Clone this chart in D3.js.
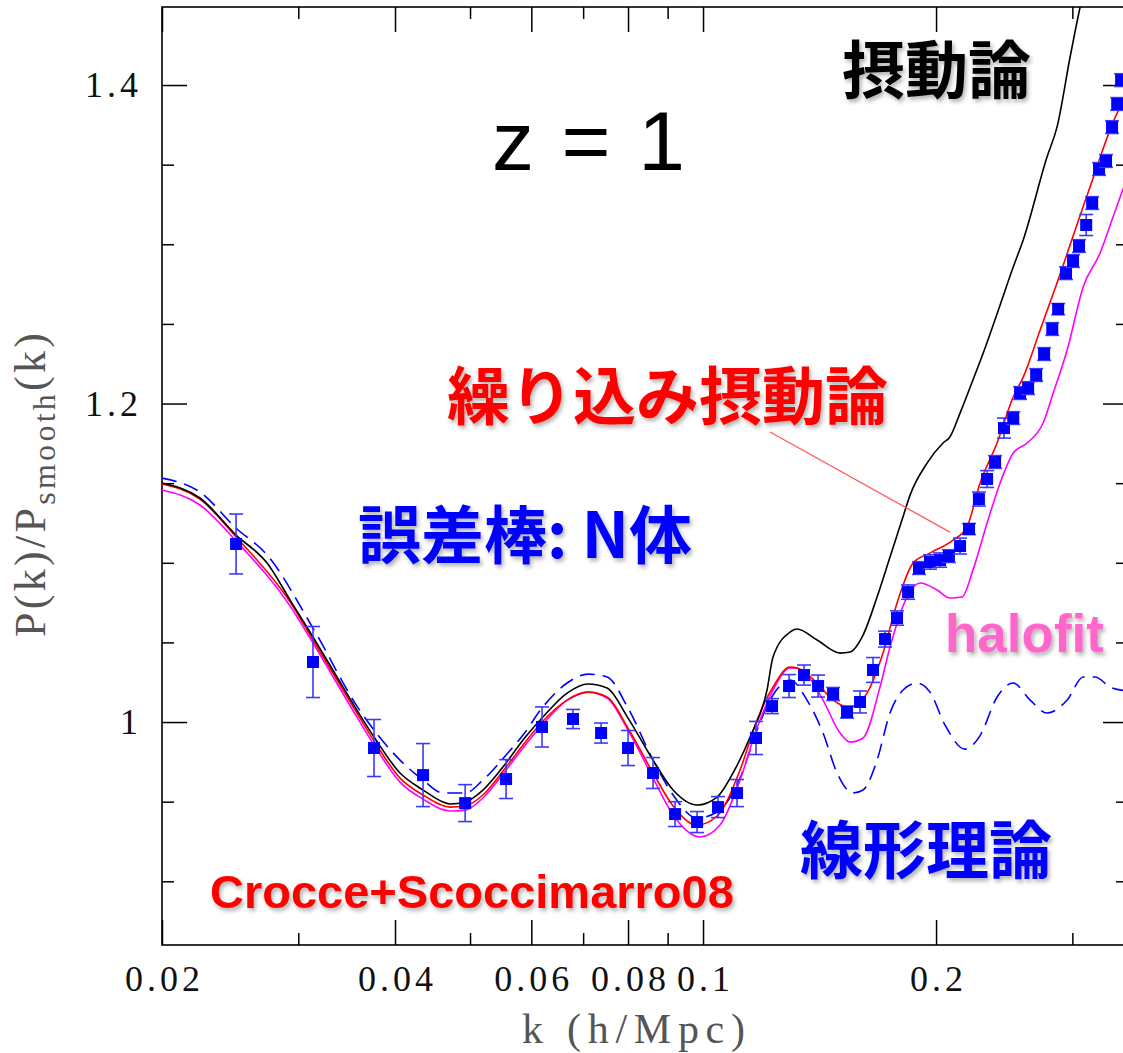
<!DOCTYPE html>
<html>
<head>
<meta charset="utf-8">
<script src="https://cdn.jsdelivr.net/npm/d3@7"></script>
<style>
  html, body { margin: 0; padding: 0; background: #fff; }
  svg { display: block; }
</style>
</head>
<body>
<svg id="chart" width="1123" height="1053"></svg>
<script>
// ---- N-body measurements (z = 1): k [h/Mpc], P(k)/P_smooth(k), 1-sigma error
const nbodyK = [0.02493, 0.03134, 0.03758, 0.04348, 0.04928, 0.05566, 0.06194, 0.06792, 0.07384, 0.0800,
  0.08618, 0.09202, 0.09824, 0.10456, 0.11064, 0.11706, 0.12278, 0.12916, 0.13504, 0.1408,
  0.14724, 0.15348, 0.15952, 0.1658, 0.17184, 0.17808, 0.18402, 0.19012, 0.19644, 0.2024,
  0.2078, 0.2148, 0.2206, 0.2272, 0.2328, 0.2384, 0.2448, 0.2516, 0.2568, 0.263,
  0.2694, 0.2758, 0.2826, 0.2876, 0.2944, 0.3006, 0.306, 0.3126, 0.3182, 0.3248,
  0.3316, 0.3376, 0.3428, 0.3468];
const nbodyRatio = [1.1118, 1.0377, 0.9837, 0.9667, 0.9491, 0.9642, 0.9969, 1.0019, 0.9931, 0.9837,
  0.968, 0.9422, 0.9372, 0.9466, 0.9554, 0.99, 1.01, 1.0226, 1.0295, 1.0226,
  1.0176, 1.0063, 1.0126, 1.0327, 1.0521, 1.0653, 1.0816, 1.0967, 1.1005, 1.1017,
  1.1042, 1.1105, 1.1212, 1.14, 1.1526, 1.1633, 1.1846, 1.1909, 1.2066, 1.2097,
  1.2179, 1.2311, 1.2468, 1.2593, 1.2819, 1.2895, 1.2989, 1.3121, 1.3259, 1.3473,
  1.3523, 1.3736, 1.3881, 1.4031];
const nbodyErr = [0.0188, 0.0223, 0.0179, 0.0198, 0.0116, 0.0122, 0.0126, 0.006, 0.0063, 0.011,
  0.0097, 0.0078, 0.0066, 0.0066, 0.0085, 0.0104, 0.0047, 0.0072, 0.0063, 0.0069,
  0.0041, 0.0038, 0.0069, 0.0078, 0.005, 0.0045, 0.0045, 0.004, 0.0045, 0.0045,
  0.004, 0.005, 0.0035, 0.0044, 0.0053, 0.004, 0.0063, 0.004, 0.004, 0.004,
  0.004, 0.004, 0.004, 0.0035, 0.004, 0.004, 0.004, 0.0066, 0.004, 0.004,
  0.004, 0.004, 0.004, 0.004];

// ---- Standard perturbation theory (black)
const sptK = [0.02, 0.02239, 0.02493, 0.02734, 0.02928, 0.03134, 0.03366, 0.03572, 0.03758, 0.0406,
  0.04348, 0.04614, 0.04712, 0.04928, 0.05196, 0.05566, 0.05854, 0.06194, 0.06674, 0.07102,
  0.07516, 0.08, 0.08618, 0.09148, 0.09824, 0.10426, 0.10932, 0.11502, 0.12096, 0.12314,
  0.12954, 0.13226, 0.14038, 0.15032, 0.15486, 0.16096, 0.1678, 0.1744, 0.18132, 0.18512,
  0.19472, 0.2042, 0.2084, 0.2148, 0.2232, 0.2314, 0.242, 0.2516, 0.2592, 0.2782,
  0.2866, 0.298, 0.307, 0.3162];
const sptRatio = [1.1501, 1.1407, 1.1174, 1.0998, 1.0766, 1.0534, 1.0283, 1.0075, 0.9906, 0.968,
  0.9573, 0.9498, 0.9485, 0.9498, 0.9573, 0.9743, 0.9887, 1.0025, 1.0182, 1.0239,
  1.0214, 1.0025, 0.9761, 0.9573, 0.9479, 0.9529, 0.968, 0.9906, 1.0201, 1.0408,
  1.0565, 1.0584, 1.0515, 1.0433, 1.044, 1.0546, 1.0785, 1.1036, 1.129, 1.1425,
  1.1626, 1.1752, 1.179, 1.194, 1.2148, 1.2349, 1.2619, 1.2857, 1.3027, 1.3548,
  1.3736, 1.4176, 1.449, 1.4754];

// ---- Renormalized perturbation theory, Crocce & Scoccimarro 2008 (red)
const rptK = [0.02, 0.02239, 0.02493, 0.02928, 0.03134, 0.03572, 0.03758, 0.0406, 0.04348, 0.04712,
  0.04928, 0.05196, 0.05566, 0.05854, 0.06194, 0.06674, 0.07102, 0.07516, 0.08, 0.08618,
  0.09148, 0.09824, 0.10426, 0.11164, 0.11742, 0.12314, 0.12954, 0.13226, 0.14038, 0.14724,
  0.15486, 0.1629, 0.1708, 0.17808, 0.18678, 0.19644, 0.2104, 0.2192, 0.228, 0.2398,
  0.2516, 0.2592, 0.2726, 0.2866, 0.3162, 0.3428, 0.354];
const rptRatio = [1.1495, 1.14, 1.1162, 1.0754, 1.0515, 1.0057, 0.9881, 0.9648, 0.9542, 0.9466,
  0.9473, 0.9542, 0.9717, 0.9856, 1.0, 1.0138, 1.0188, 1.0157, 0.9962, 0.968,
  0.9473, 0.9353, 0.941, 0.9699, 1.0013, 1.022, 1.0345, 1.0339, 1.0245, 1.0138,
  1.0094, 1.0182, 1.0433, 1.0747, 1.0998, 1.1061, 1.1143, 1.1224, 1.1501, 1.1752,
  1.2041, 1.2166, 1.2462, 1.2757, 1.336, 1.3824, 1.3937];

// ---- halofit (magenta)
const halofitK = [0.02, 0.02239, 0.02493, 0.02928, 0.03134, 0.03572, 0.03758, 0.0406, 0.04348, 0.04712,
  0.04928, 0.05196, 0.05566, 0.05854, 0.06194, 0.06674, 0.07102, 0.07516, 0.08, 0.08618,
  0.09148, 0.09912, 0.10518, 0.11164, 0.11742, 0.12314, 0.12954, 0.13226, 0.13624, 0.1429,
  0.15032, 0.15486, 0.16096, 0.16928, 0.1744, 0.18346, 0.1907, 0.2006, 0.2084, 0.216,
  0.2232, 0.2328, 0.242, 0.2516, 0.2622, 0.275, 0.2834, 0.2954, 0.3098, 0.3258,
  0.3386, 0.354];
const halofitRatio = [1.1457, 1.1363, 1.1137, 1.0728, 1.0496, 1.0031, 0.9856, 0.9623, 0.9516, 0.9441,
  0.9447, 0.9523, 0.9699, 0.9837, 0.9981, 1.0138, 1.0188, 1.0151, 0.995, 0.9648,
  0.9416, 0.9278, 0.9353, 0.9636, 0.9962, 1.0201, 1.0339, 1.0339, 1.0295, 1.0138,
  0.9931, 0.9874, 0.99, 1.022, 1.0471, 1.0785, 1.0873, 1.0829, 1.0779, 1.0785,
  1.0954, 1.125, 1.1501, 1.1689, 1.1752, 1.1878, 1.2066, 1.2336, 1.2732, 1.2945,
  1.3171, 1.3435];

// ---- Linear theory (blue dashed)
const linearK = [0.02, 0.02239, 0.02493, 0.02734, 0.03134, 0.03572, 0.0406, 0.04348, 0.04614, 0.04928,
  0.05196, 0.05566, 0.05854, 0.06194, 0.06674, 0.07102, 0.07516, 0.08, 0.08618, 0.09148,
  0.09824, 0.10426, 0.11164, 0.11742, 0.12314, 0.12954, 0.13624, 0.1429, 0.149, 0.15626,
  0.16096, 0.1678, 0.1744, 0.18132, 0.18904, 0.19644, 0.2054, 0.218, 0.228, 0.2398,
  0.2516, 0.2646, 0.2782, 0.2954, 0.3098, 0.321, 0.3356, 0.354];
const linearRatio = [1.1532, 1.1444, 1.1218, 1.1049, 1.059, 1.01, 0.9761, 0.9636, 0.9554, 0.9554,
  0.9636, 0.9793, 0.9918, 1.0088, 1.0245, 1.0301, 1.0283, 1.0088, 0.9761, 0.9542,
  0.9397, 0.9435, 0.9648, 0.995, 1.017, 1.0264, 1.0138, 0.9931, 0.968, 0.9554,
  0.9573, 0.9761, 1.0057, 1.0201, 1.0245, 1.0188, 0.9981, 0.983, 0.9915, 1.0157,
  1.0245, 1.0138, 1.0057, 1.0138, 1.0283, 1.0283, 1.022, 1.0195];

// ---- Axis ticks
const xMajorTicks = [0.02, 0.04, 0.06, 0.08, 0.1, 0.2];
const xTickLabels = ["0.02", "0.04", "0.06", "0.08", "0.1", "0.2"];
const xMinorTicks = [0.03, 0.05, 0.07, 0.09, 0.3];
const yMajorTicks = [1, 1.2, 1.4];
const yTickLabels = ["1", "1.2", "1.4"];
const yMinorTicks = [0.9, 0.95, 1.05, 1.1, 1.15, 1.25, 1.3, 1.35];

// ---- Pointer from the RPT label to its curve (k, ratio)
const pointerFrom = [0.12206, 1.1821];
const pointerTo = [0.2084, 1.1193];

// ================= drawing =================
const plot = { left: 162, right: 1128, top: 7, bottom: 945 };
const x = d3.scaleLog().domain([0.02, 0.354]).range([plot.left, plot.right]);
const y = d3.scaleLinear().domain([0.86, 1.449]).range([plot.bottom, plot.top]);

const svg = d3.select("#chart");
const defs = svg.append("defs");
defs.append("clipPath").attr("id", "plotclip")
  .append("rect")
  .attr("x", plot.left).attr("y", plot.top)
  .attr("width", plot.right - plot.left).attr("height", plot.bottom - plot.top);
const shadow = defs.append("filter").attr("id", "soft")
  .attr("x", "-10%").attr("y", "-30%").attr("width", "130%").attr("height", "170%");
shadow.append("feDropShadow")
  .attr("dx", 2).attr("dy", 3).attr("stdDeviation", 2.2)
  .attr("flood-color", "#000").attr("flood-opacity", 0.3);

const serif = "'Liberation Serif', 'DejaVu Serif', serif";
const MAJ = 25, MIN = 12;
const lookup = (vals, labels) => d => labels[vals.indexOf(d)];

function tidy(g) {
  g.select(".domain").remove();
  g.selectAll(".tick line").attr("stroke", "#000").attr("stroke-width", 1.5);
}
function tickText(g) {
  g.selectAll("text")
    .attr("font-family", serif).attr("font-size", 36)
    .attr("fill", "#111").attr("letter-spacing", "4px");
}

// bottom axis
svg.append("g").attr("transform", `translate(0,${plot.bottom})`)
  .call(d3.axisBottom(x).tickValues(xMajorTicks).tickSize(-MAJ).tickSizeOuter(0)
    .tickPadding(20).tickFormat(lookup(xMajorTicks, xTickLabels)))
  .call(tidy).call(tickText)
  .call(g => g.selectAll("text").attr("dx", 2));
svg.append("g").attr("transform", `translate(0,${plot.bottom})`)
  .call(d3.axisBottom(x).tickValues(xMinorTicks).tickSize(-MIN).tickSizeOuter(0).tickFormat(""))
  .call(tidy);
// top axis
svg.append("g").attr("transform", `translate(0,${plot.top})`)
  .call(d3.axisTop(x).tickValues(xMajorTicks).tickSize(-MAJ).tickSizeOuter(0).tickFormat(""))
  .call(tidy);
svg.append("g").attr("transform", `translate(0,${plot.top})`)
  .call(d3.axisTop(x).tickValues(xMinorTicks).tickSize(-MIN).tickSizeOuter(0).tickFormat(""))
  .call(tidy);
// left axis
svg.append("g").attr("transform", `translate(${plot.left},0)`)
  .call(d3.axisLeft(y).tickValues(yMajorTicks).tickSize(-MAJ).tickSizeOuter(0)
    .tickPadding(20).tickFormat(lookup(yMajorTicks, yTickLabels)))
  .call(tidy).call(tickText);
svg.append("g").attr("transform", `translate(${plot.left},0)`)
  .call(d3.axisLeft(y).tickValues(yMinorTicks).tickSize(-MIN).tickSizeOuter(0).tickFormat(""))
  .call(tidy);
// right axis
svg.append("g").attr("transform", `translate(${plot.right},0)`)
  .call(d3.axisRight(y).tickValues(yMajorTicks).tickSize(-MAJ).tickSizeOuter(0).tickFormat(""))
  .call(tidy);
svg.append("g").attr("transform", `translate(${plot.right},0)`)
  .call(d3.axisRight(y).tickValues(yMinorTicks).tickSize(-MIN).tickSizeOuter(0).tickFormat(""))
  .call(tidy);

// frame
svg.append("rect")
  .attr("x", plot.left).attr("y", plot.top)
  .attr("width", plot.right - plot.left).attr("height", plot.bottom - plot.top)
  .attr("fill", "none").attr("stroke", "#000").attr("stroke-width", 1.6);

// axis titles
svg.append("text")
  .attr("x", 522).attr("y", 1043)
  .attr("font-family", serif).attr("font-size", 42).attr("fill", "#555")
  .attr("textLength", 223).attr("lengthAdjust", "spacing")
  .text("k (h/Mpc)");

const yTitle = svg.append("text")
  .attr("transform", "translate(45,485) rotate(-90)")
  .attr("text-anchor", "middle")
  .attr("font-family", serif).attr("font-size", 44).attr("fill", "#555")
  .attr("textLength", 304).attr("lengthAdjust", "spacing");
yTitle.append("tspan").text("P(k)/P");
yTitle.append("tspan").attr("dy", 10).attr("font-size", 32).text("smooth");
yTitle.append("tspan").attr("dy", -10).text("(k)");

// model curves
const line = d3.line()
  .x(d => x(d[0])).y(d => y(d[1]))
  .curve(d3.curveMonotoneX);
const curves = svg.append("g").attr("clip-path", "url(#plotclip)").attr("fill", "none");
function drawCurve(ks, vs, color, dash) {
  curves.append("path")
    .datum(d3.zip(ks, vs))
    .attr("d", line)
    .attr("stroke", color).attr("stroke-width", 1.6)
    .attr("stroke-dasharray", dash || null);
}
drawCurve(linearK, linearRatio, "#0000ff", "15,8");
drawCurve(halofitK, halofitRatio, "#ff00ff");
drawCurve(rptK, rptRatio, "#ff0000");
drawCurve(sptK, sptRatio, "#000000");

// N-body points with error bars
const nbody = nbodyK.map((k, i) => ({ k, v: nbodyRatio[i], e: nbodyErr[i] }));
const pts = svg.append("g").selectAll("g").data(nbody).join("g");
const barColor = "#3a3aff";
pts.append("line")
  .attr("x1", d => x(d.k)).attr("x2", d => x(d.k))
  .attr("y1", d => y(d.v - d.e)).attr("y2", d => y(d.v + d.e))
  .attr("stroke", barColor).attr("stroke-width", 1.6);
[-1, 1].forEach(s => {
  pts.append("line")
    .attr("x1", d => x(d.k) - 7).attr("x2", d => x(d.k) + 7)
    .attr("y1", d => y(d.v + s * d.e)).attr("y2", d => y(d.v + s * d.e))
    .attr("stroke", barColor).attr("stroke-width", 1.6);
});
pts.append("rect")
  .attr("x", d => x(d.k) - 6).attr("y", d => y(d.v) - 6)
  .attr("width", 12).attr("height", 12)
  .attr("fill", "#0000ff");

// pointer line
svg.append("line")
  .attr("x1", x(pointerFrom[0])).attr("y1", y(pointerFrom[1]))
  .attr("x2", x(pointerTo[0])).attr("y2", y(pointerTo[1]))
  .attr("stroke", "#ff5a5a").attr("stroke-width", 1.3);

// annotations
const cjk = "'Noto Sans CJK JP', 'Noto Sans CJK SC', sans-serif";
const sans = "'Liberation Sans', Arial, sans-serif";

svg.append("text")
  .attr("x", 492).attr("y", 170)
  .attr("font-family", sans).attr("font-size", 84).attr("fill", "#000")
  .attr("textLength", 193).attr("lengthAdjust", "spacing")
  .text("z = 1");

const notes = [
  { t: "摂動論", x: 842, y: 65, c: "#000000" },
  { t: "繰り込み摂動論", x: 447, y: 391, c: "#ff0000" },
  { t: "誤差棒: N体", x: 358, y: 530, c: "#0000ff" },
  { t: "線形理論", x: 800, y: 845, c: "#0000ff" }
];
svg.append("g").selectAll("text").data(notes).join("text")
  .attr("x", d => d.x).attr("y", d => d.y)
  .attr("dominant-baseline", "central")
  .attr("font-family", cjk).attr("font-weight", 700).attr("font-size", 63)
  .attr("fill", d => d.c)
  .attr("filter", "url(#soft)")
  .text(d => d.t);

svg.append("text")
  .attr("x", 945).attr("y", 652)
  .attr("font-family", sans).attr("font-weight", 700).attr("font-size", 53)
  .attr("fill", "#ff66cc").attr("filter", "url(#soft)")
  .text("halofit");

svg.append("text")
  .attr("x", 210).attr("y", 908)
  .attr("font-family", sans).attr("font-weight", 700).attr("font-size", 47)
  .attr("fill", "#ff0000").attr("filter", "url(#soft)")
  .text("Crocce+Scoccimarro08");
</script>
</body>
</html>
